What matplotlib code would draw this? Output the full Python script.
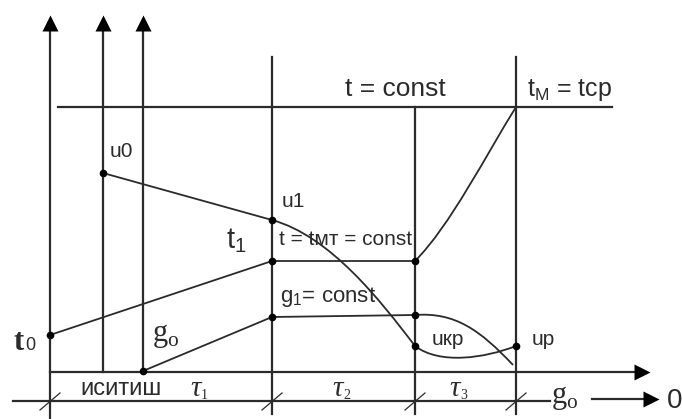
import numpy as np
import matplotlib.pyplot as plt
from matplotlib.path import Path
from matplotlib.patches import PathPatch

# diagram coordinates (x to the right, y downward)
axis_x = [50, 103, 143]            # vertical axes with arrows
axis_top = 15
stage_x = [272, 415, 516]          # stage boundaries
stage_top = [57, 107, 57]
y_top_line = 107
y_g_axis = 372
y_time_axis = 401

# u: moisture line
u_line_x = [103, 272]
u_line_y = [173, 220]
u_fall = [(272, 220), (330, 236), (380, 300), (415, 346)]
u_tail = [(415, 346), (440, 365), (485, 358), (516, 346)]
u_kr = [(415, 315), (455, 312), (480, 330), (513, 365)]

# t: temperature line
t_line_x = [50, 272, 415]
t_line_y = [335, 261, 261]
t_rise = [(415, 261), (450, 226), (486, 155), (516, 107)]

# g: rate line
g_line_x = [143, 272, 415]
g_line_y = [371, 317, 315]

dots_x = [103, 272, 50, 272, 415, 143, 272, 415, 415, 516]
dots_y = [173, 220, 335, 261, 261, 371, 317, 315, 346, 346]

tick_x = [50, 272, 415, 516]

# stage names on the time axis
tau_x = [190, 332, 449]
tau_labels = ['1', '2', '3']

ink = '#2b2b2b'
sans = ['Liberation Sans', 'DejaVu Sans']
serif = ['Liberation Serif', 'DejaVu Serif']

fig = plt.figure(figsize=(6.82, 4.19), dpi=100)
ax = fig.add_axes([0, 0, 1, 1])
ax.set_xlim(0, 682)
ax.set_ylim(419, 0)
ax.axis('off')

lw = 1.6

# vertical axes with arrowheads
ax.plot([axis_x[0], axis_x[0]], [axis_top + 8, 419], color=ink, lw=lw)
for x in axis_x[1:]:
    ax.plot([x, x], [axis_top + 8, y_g_axis], color=ink, lw=lw)
for x in axis_x:
    ax.plot(x, axis_top + 8, marker='^', markersize=12, color='black', mec='none')

# stage boundaries
for x, y0 in zip(stage_x, stage_top):
    ax.plot([x, x], [y0, 414], color=ink, lw=lw)

# horizontal lines
ax.plot([58, 612], [y_top_line, y_top_line], color=ink, lw=lw)
ax.plot([50, 640], [y_g_axis, y_g_axis], color=ink, lw=lw)
ax.plot(642, y_g_axis, marker='>', markersize=12, color='black', mec='none')
ax.plot([13, 550], [y_time_axis, y_time_axis], color=ink, lw=lw)
for x in tick_x:
    ax.plot([x - 10, x + 10], [y_time_axis + 9, y_time_axis - 8], color=ink, lw=0.9)


def bezier(pts, lw_=1.3):
    codes = [Path.MOVETO, Path.CURVE4, Path.CURVE4, Path.CURVE4]
    ax.add_patch(PathPatch(Path(pts, codes), fill=False, edgecolor=ink, lw=lw_))


ax.plot(u_line_x, u_line_y, color=ink, lw=1.3)
bezier(u_fall)
bezier(u_tail)
bezier(u_kr)

ax.plot(t_line_x, t_line_y, color=ink, lw=1.3)
bezier(t_rise)

ax.plot(g_line_x, g_line_y, color=ink, lw=1.3)

ax.plot(dots_x, dots_y, 'o', color='black', markersize=4.5, ls='none')

# labels
ax.text(345, 96, 't = const', family=sans, fontsize=19, color=ink)
ax.text(527, 96, r't$_{\mathregular{M}}$ = tcp', family=sans, fontsize=18, color=ink)
ax.text(110, 157, 'u0', family=sans, fontsize=15, color=ink)
ax.text(282, 207, 'u1', family=sans, fontsize=15, color=ink)
ax.text(279, 245, 't = tмт = const', family=sans, fontsize=15, color=ink)
ax.text(280, 302, r'g$_{\mathregular{1}}$= const', family=sans, fontsize=16, color=ink)
ax.text(432, 345, 'uкр', family=sans, fontsize=15, color=ink)
ax.text(532, 345, 'up', family=sans, fontsize=15, color=ink)
ax.text(13, 350, 't', family=serif, fontsize=22, weight='bold', color=ink)
ax.text(25, 350, '0', family=sans, fontsize=13, color=ink)
ax.text(226, 248, r't$_{\mathregular{1}}$', family=sans, fontsize=21, color=ink)
ax.text(152, 341, r'g$_{\mathregular{o}}$', family=serif, fontsize=22, color=ink)
ax.text(80, 395, 'иситиш', family=sans, fontsize=17, color=ink)
for x, s in zip(tau_x, tau_labels):
    ax.text(x, 396, 'τ', family=serif, fontsize=21, style='italic', color=ink)
    ax.text(x + 11, 399, s, family=serif, fontsize=10, color=ink)
ax.text(551, 403, r'g$_{\mathregular{o}}$', family=serif, fontsize=22, color=ink)
ax.plot([592, 648], [399, 399], color=ink, lw=lw)
ax.plot(651, 399, marker='>', markersize=12, color='black', mec='none')
ax.text(667, 408, '0', family=sans, fontsize=20, color=ink)

fig.savefig('out.png', dpi=100)
